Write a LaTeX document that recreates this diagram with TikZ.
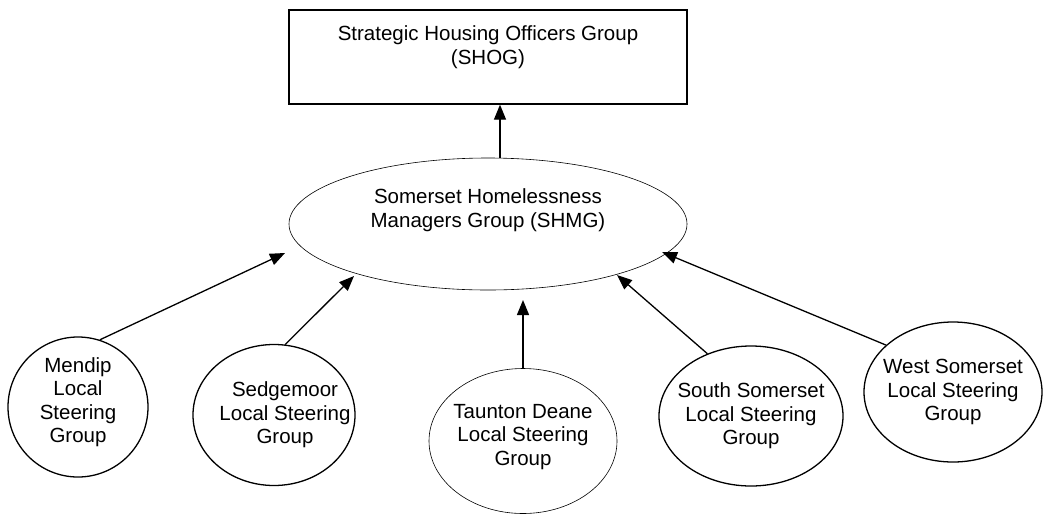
\documentclass[tikz,border=0pt]{standalone}
\usepackage{fontspec}
\setmainfont{Liberation Sans}
\usetikzlibrary{shapes.geometric,arrows.meta}

\begin{document}
\begin{tikzpicture}[x=1pt,y=-1pt,
every node/.style={font=\fontsize{20.5}{23.5}\selectfont,align=center,inner sep=0pt},
group/.style={ellipse,draw,line width=1.3pt},
thin group/.style={ellipse,draw,line width=0.6pt},
feed/.style={line width=1.3pt,-{Triangle[length=15pt,width=12pt]}}]
\useasboundingbox (0,0) rectangle (1055,515);
    \node (SHOG) [draw,line width=1.3pt,minimum width=398pt,minimum height=94pt] at (488,57)
        {Strategic Housing Officers Group\\(SHOG)\\ \mbox{}};
    \node (SHMG) [thin group,minimum width=398pt,minimum height=132pt] at (488,224) {};
    \node (SHMG-text) at ([yshift=14pt]SHMG.center) {Somerset Homelessness\\Managers Group (SHMG)};
    \draw[feed] ([xshift=12pt]SHMG.north) -- ([xshift=12pt]SHOG.south);

   % Local steering groups, text set as centre labels
    \node (Mendip) [group,minimum width=140pt,minimum height=140pt] at (78,407)
        [label={[yshift=5pt]center:Mendip\\Local\\Steering\\Group}] {};
    \node (Sedgemoor) [group,minimum width=162pt,minimum height=141pt] at (274,415)
        [label={[xshift=11pt]center:Sedgemoor\\Local Steering\\Group}] {};
    \node (Taunton) [thin group,minimum width=188pt,minimum height=145pt] at (523,441)
        [label={[yshift=4pt]center:Taunton Deane\\Local Steering\\Group}] {};
    \node (South) [group,minimum width=184pt,minimum height=140pt] at (751,416)
        [label={center:South Somerset\\Local Steering\\Group}] {};
    \node (West) [group,minimum width=178pt,minimum height=140pt] at (953,392)
        [label={center:West Somerset\\Local Steering\\Group}] {};

   % Arrow ends below the SHMG ellipse
    \coordinate (to-Mendip) at (285,253);
    \coordinate (to-Sedgemoor) at (354,276);
    \coordinate (to-Taunton) at (523,300);
    \coordinate (to-South) at (617,275);
    \coordinate (to-West) at (662,252);

    \draw[feed] (Mendip.72) -- (to-Mendip);
    \draw[feed] (Sedgemoor.81) -- (to-Sedgemoor);
    \draw[feed] (Taunton.north) -- (to-Taunton);
    \draw[feed] (South.125) -- (to-South);
    \draw[feed] (West.145) -- (to-West);

\end{tikzpicture}
\end{document}
